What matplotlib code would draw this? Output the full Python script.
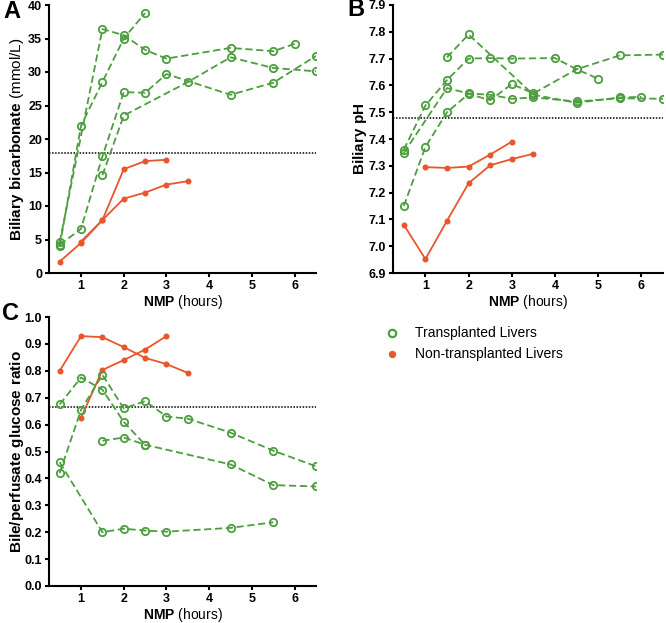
import numpy as np
import matplotlib
matplotlib.use("Agg")
import matplotlib.pyplot as plt

plt.rcParams['font.family'] = ['Liberation Sans', 'DejaVu Sans']
plt.rcParams['mathtext.fontset'] = 'custom'
plt.rcParams['mathtext.rm'] = 'Liberation Sans'
plt.rcParams['mathtext.bf'] = 'Liberation Sans:bold'

GREEN = '#4c9e3f'
RED = '#e8562c'

# ---- Panel A: biliary bicarbonate (mmol/L)
a_green_x = [
    [0.5, 1.0, 1.5, 2.0, 2.5],
    [0.5, 1.5, 2.0, 2.5, 3.0, 4.5, 5.5, 6.0],
    [0.5, 1.0, 1.5, 2.0, 2.5, 3.0, 4.5, 5.5, 6.5],
    [1.5, 2.0, 3.5, 4.5, 5.5, 6.5],
]
a_green_y = [
    [4.0, 22.0, 28.5, 35.0, 38.8],
    [4.6, 36.4, 35.5, 33.3, 32.0, 33.6, 33.1, 34.2],
    [4.2, 6.6, 17.4, 27.0, 26.9, 29.7, 26.6, 28.4, 32.4],
    [14.6, 23.5, 28.5, 32.2, 30.6, 30.1],
]
a_red_x = [
    [0.5, 1.0, 1.5, 2.0, 2.5, 3.0],
    [1.0, 1.5, 2.0, 2.5, 3.0, 3.5],
]
a_red_y = [
    [1.7, 4.5, 7.9, 15.5, 16.7, 16.9],
    [4.7, 7.9, 11.1, 12.0, 13.2, 13.7],
]
a_cutoff = 17.9

# ---- Panel B: biliary pH
b_green_x = [
    [1.5, 2.0, 3.5, 4.5, 5.5, 6.0],
    [0.5, 1.0, 1.5, 2.0, 2.5, 3.0, 4.0, 4.5, 5.0],
    [0.5, 1.5, 2.0, 2.5, 3.0, 3.5, 4.5, 5.5, 6.5],
    [0.5, 1.0, 1.5, 2.0, 2.5, 3.0, 3.5, 4.5, 5.5, 6.5],
]
b_green_y = [
    [7.705, 7.79, 7.565, 7.535, 7.555, 7.557],
    [7.36, 7.525, 7.62, 7.70, 7.702, 7.70, 7.702, 7.66, 7.625],
    [7.348, 7.59, 7.57, 7.565, 7.55, 7.555, 7.54, 7.552, 7.55],
    [7.15, 7.37, 7.50, 7.568, 7.545, 7.605, 7.57, 7.66, 7.712, 7.715],
]
b_red_x = [
    [0.5, 1.0, 1.5, 2.0, 2.5, 3.0, 3.5],
    [1.0, 1.5, 2.0, 2.5, 3.0],
]
b_red_y = [
    [7.08, 6.952, 7.095, 7.235, 7.302, 7.325, 7.345],
    [7.295, 7.292, 7.297, 7.342, 7.39],
]
b_cutoff = 7.48

# ---- Panel C: bile/perfusate glucose ratio
c_green_x = [
    [0.5, 1.0, 1.5, 2.0, 2.5],
    [0.5, 1.0, 1.5, 2.0, 2.5, 3.0, 3.5, 4.5, 5.5, 6.5],
    [1.5, 2.0, 2.5, 4.5, 5.5, 6.5],
    [0.5, 1.5, 2.0, 2.5, 3.0, 4.5, 5.5],
]
c_green_y = [
    [0.675, 0.775, 0.73, 0.61, 0.525],
    [0.42, 0.655, 0.785, 0.66, 0.687, 0.63, 0.622, 0.57, 0.503, 0.445],
    [0.54, 0.552, 0.525, 0.452, 0.375, 0.37],
    [0.46, 0.20, 0.213, 0.206, 0.202, 0.216, 0.237],
]
c_red_x = [
    [0.5, 1.0, 1.5, 2.0, 2.5, 3.0, 3.5],
    [1.0, 1.5, 2.0, 2.5, 3.0],
]
c_red_y = [
    [0.80, 0.929, 0.925, 0.888, 0.848, 0.825, 0.792],
    [0.625, 0.803, 0.84, 0.879, 0.929],
]
c_cutoff = 0.667

W, H = 666, 623
fig = plt.figure(figsize=(W / 100, H / 100), dpi=100)


def box(left, top, right, bottom):
    return [left / W, 1 - bottom / H, (right - left) / W, (bottom - top) / H]


axA = fig.add_axes(box(49, 5, 316, 273))
axB = fig.add_axes(box(393, 5, 663, 273))
axC = fig.add_axes(box(49, 317, 316, 586))


def draw(ax, gx, gy, rx, ry, cutoff, ylim, yticks, yfmt, ylabel, ylab_x):
    for xs, ys in zip(rx, ry):
        ax.plot(xs, ys, '-', color=RED, lw=1.3, marker='o', ms=3.3,
                mfc=RED, mec=RED, zorder=3)
    for xs, ys in zip(gx, gy):
        ax.plot(xs, ys, '--', color=GREEN, lw=1.3, dashes=(4, 2),
                marker='o', ms=5.3, mfc='none', mec=GREEN, mew=1.3, zorder=3)
    ax.axhline(cutoff, color='black', ls=(0, (1, 1)), lw=1.1, zorder=2)
    ax.set_xlim(0.25, 6.5)
    ax.set_ylim(*ylim)
    ax.set_xticks([1, 2, 3, 4, 5, 6])
    ax.set_yticks(yticks)
    ax.set_yticklabels([yfmt.format(v) for v in yticks])
    for s in ['top', 'right']:
        ax.spines[s].set_visible(False)
    for s in ['left', 'bottom']:
        ax.spines[s].set_linewidth(1.5)
    ax.tick_params(direction='out', length=3, width=1.5, pad=2, labelsize=9)
    for lab in ax.get_xticklabels() + ax.get_yticklabels():
        lab.set_fontweight('bold')
    ax.set_xlabel(r'$\bf{NMP}$ (hours)', fontsize=10, va='center')
    ax.xaxis.set_label_coords(0.5, -29 / 268)
    ax.set_ylabel(ylabel, fontsize=11, va='center')
    ax.yaxis.set_label_coords(ylab_x, 0.5)


draw(axA, a_green_x, a_green_y, a_red_x, a_red_y, a_cutoff, (0, 40),
     np.arange(0, 41, 5), '{:.0f}',
     r'$\bf{Biliary\ bicarbonate}$ (mmol/L)', (17 - 49) / 267)
draw(axB, b_green_x, b_green_y, b_red_x, b_red_y, b_cutoff, (6.9, 7.9),
     np.round(np.arange(6.9, 7.91, 0.1), 1), '{:.1f}',
     r'$\bf{Biliary\ pH}$', (360 - 393) / 270)
draw(axC, c_green_x, c_green_y, c_red_x, c_red_y, c_cutoff, (0, 1.0),
     np.round(np.arange(0, 1.01, 0.1), 1), '{:.1f}',
     r'$\bf{Bile/perfusate\ glucose\ ratio}$', (17 - 49) / 267)

fig.text(3 / W, 1 - 11 / H, 'A', fontsize=17, fontweight='bold', va='center')
fig.text(347 / W, 1 - 10 / H, 'B', fontsize=17, fontweight='bold', va='center')
fig.text(2 / W, 1 - 314 / H, 'C', fontsize=17, fontweight='bold', va='center')

# legend
fig.lines.append(plt.Line2D([392 / W], [1 - 333 / H], transform=fig.transFigure,
                            marker='o', ms=5.3, mfc='none', mec=GREEN, mew=1.6, ls='none'))
fig.lines.append(plt.Line2D([392 / W], [1 - 354 / H], transform=fig.transFigure,
                            marker='o', ms=4.3, mfc=RED, mec=RED, ls='none'))
fig.text(415 / W, 1 - 333 / H, 'Transplanted Livers', fontsize=10, va='center')
fig.text(415 / W, 1 - 354 / H, 'Non-transplanted Livers', fontsize=10, va='center')

fig.savefig('out.png', dpi=100)
